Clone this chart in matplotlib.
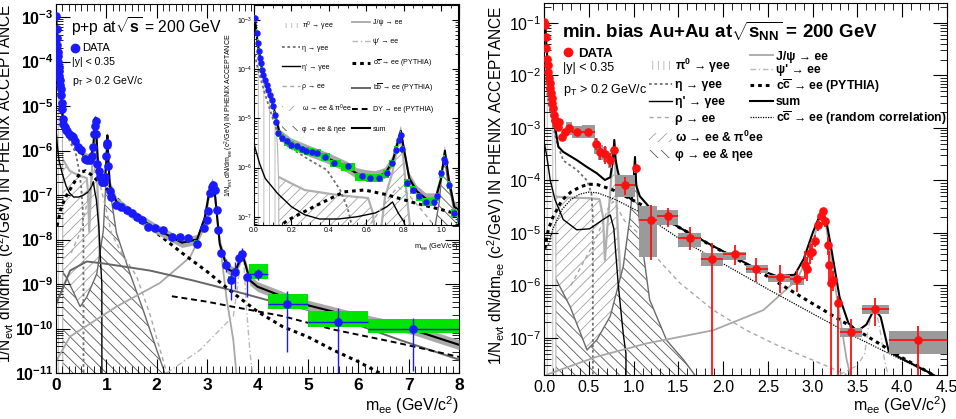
import numpy as np
import matplotlib
matplotlib.use("Agg")
import matplotlib.pyplot as plt
from matplotlib.lines import Line2D
from matplotlib.patches import Patch
from matplotlib.ticker import LogLocator, MultipleLocator, NullFormatter

plt.rcParams['font.family'] = ['Liberation Sans', 'DejaVu Sans']
plt.rcParams['font.weight'] = 'bold'
plt.rcParams['mathtext.fontset'] = 'custom'
plt.rcParams['mathtext.rm'] = 'Liberation Sans'
plt.rcParams['mathtext.it'] = 'Liberation Sans:italic'
plt.rcParams['mathtext.bf'] = 'Liberation Sans:bold'
plt.rcParams['mathtext.default'] = 'regular'
plt.rcParams['hatch.linewidth'] = 0.6

# ---------------- p+p data ----------------
pp_m = [0.005, 0.014, 0.02, 0.027, 0.032, 0.037, 0.041, 0.05, 0.059, 0.068,
        0.077, 0.086, 0.095, 0.103, 0.112, 0.116, 0.13, 0.148, 0.175, 0.20,
        0.228, 0.255, 0.28, 0.31, 0.335, 0.38, 0.43, 0.50, 0.575, 0.62,
        0.67, 0.71, 0.735, 0.76, 0.775, 0.785, 0.79, 0.815, 0.85, 0.88,
        0.92, 0.96, 0.98, 1.0, 1.015, 1.022, 1.04, 1.066, 1.10, 1.2,
        1.3, 1.4, 1.5, 1.6, 1.7, 1.83, 1.96, 2.13, 2.3, 2.46,
        2.63, 2.79, 2.94, 2.99, 3.02, 3.06, 3.09, 3.12, 3.15, 3.19,
        3.21, 3.27]
pp_v = [1.08e-3, 5.4e-4, 3.4e-4, 2.3e-4, 1.66e-4, 1.3e-4, 9.5e-5, 7.6e-5, 6e-5, 4.8e-5,
        3.8e-5, 3e-5, 2.35e-5, 1.74e-5, 1.17e-5, 8.5e-6, 5e-6, 4e-6, 3.4e-6, 2.9e-6,
        2.7e-6, 2.35e-6, 2.2e-6, 2.1e-6, 2.0e-6, 1.66e-6, 1.23e-6, 1.05e-6, 6.6e-7, 6.2e-7,
        6.2e-7, 7.6e-7, 1.23e-6, 2.3e-6, 3.6e-6, 4.6e-6, 2.35e-6, 4.9e-7, 3.5e-7, 2.6e-7,
        2e-7, 2e-7, 2.6e-7, 7.6e-7, 1.5e-6, 1.3e-6, 4.5e-7, 1.2e-7, 9e-8, 6e-8,
        5.5e-8, 4.6e-8, 3.9e-8, 3.2e-8, 2.7e-8, 1.95e-8, 1.8e-8, 1.6e-8, 1.15e-8, 1.15e-8,
        1.07e-8, 8.1e-9, 1.77e-8, 2.7e-8, 4.3e-8, 1.1e-7, 1.55e-7, 1.67e-7, 1.3e-7, 4.6e-8,
        1.6e-8, 4.9e-9]

pp_mid_m = [3.37, 3.47, 3.55, 3.64, 3.70, 3.80]
pp_mid_v = [2.7e-9, 1.25e-9, 1.9e-9, 3.9e-9, 4.7e-9, 1.4e-9]
pp_mid_elo = [1.9e-9, 4.4e-10, 7.9e-10, 2.8e-9, 3.5e-9, 5.1e-10]
pp_mid_ehi = [3.7e-9, 1.9e-9, 3.2e-9, 5.5e-9, 6.5e-9, 1.9e-9]

pp_bin_m = [4.0, 4.58, 5.59, 7.09]
pp_bin_lo = [3.83, 4.2, 5.0, 6.2]
pp_bin_hi = [4.2, 5.0, 6.2, 8.0]
pp_bin_v = [1.67e-9, 3.5e-10, 1.4e-10, 9.6e-11]
pp_bin_elo = [1.23e-9, 3e-11, 1e-11, 1.1e-11]
pp_bin_ehi = [2.2e-9, 6.9e-10, 2.95e-10, 1.7e-10]
pp_bin_slo = [1.29e-9, 2.75e-10, 1.1e-10, 7.9e-11]
pp_bin_shi = [2.8e-9, 5.9e-10, 2.45e-10, 1.6e-10]
pp_sys = 0.18

# p+p cocktail
pp_pi0_m = [0.0, 0.005, 0.02, 0.04, 0.06, 0.08, 0.10, 0.115, 0.125, 0.132, 0.135]
pp_pi0_v = [1.1e-3, 1.05e-3, 3.3e-4, 1.1e-4, 5.2e-5, 3.3e-5, 1.9e-5, 9e-6, 3e-6, 5e-7, 1e-13]
pp_eta_m = [0.005, 0.02, 0.06, 0.10, 0.13, 0.18, 0.30, 0.39, 0.46, 0.50, 0.53, 0.545, 0.547]
pp_eta_v = [2e-4, 1e-4, 3e-5, 1e-5, 4.5e-6, 2.7e-6, 1.4e-6, 8.9e-7, 3.5e-7, 1.5e-7, 5e-8, 1e-8, 1e-13]
pp_etap_m = [0.0, 0.03, 0.06, 0.125, 0.2, 0.27, 0.35, 0.45, 0.55, 0.65, 0.71, 0.74, 0.77, 0.80, 0.85, 0.88, 0.91, 0.912]
pp_etap_v = [3e-6, 1.2e-6, 6e-7, 3e-7, 1.6e-7, 1.1e-7, 9e-8, 9e-8, 1e-7, 1.2e-7, 1.6e-7, 2e-7, 1.2e-7, 8e-8, 2e-8, 4e-9, 1e-9, 1e-13]
pp_rho_m = [0.3, 0.45, 0.55, 0.65, 0.72, 0.77, 0.82, 0.9, 1.0, 1.1, 1.3, 1.6, 1.87, 2.0, 2.2]
pp_rho_v = [5e-9, 1.2e-8, 3e-8, 1e-7, 2.5e-7, 4e-7, 3e-7, 1.3e-7, 4.5e-8, 1.4e-8, 5e-9, 1.5e-9, 2e-10, 6e-11, 1e-11]
pp_omega_m = [0.0, 0.05, 0.125, 0.27, 0.45, 0.61, 0.635, 0.66, 0.70, 0.74, 0.765, 0.78, 0.795, 0.82, 0.87, 0.95, 1.05, 1.2]
pp_omega_v = [3.1e-6, 1.1e-6, 6.6e-7, 3.5e-7, 2.75e-7, 2.4e-7, 1.2e-7, 1.5e-8, 2.5e-7, 8e-7, 2.5e-6, 4.5e-6, 2e-6, 2e-7, 3e-9, 3e-10, 8e-11, 2e-11]
pp_phi_m = [0.0, 0.013, 0.21, 0.48, 0.61, 0.81, 0.94, 0.99, 1.006, 1.019, 1.03, 1.07, 1.2, 1.47, 1.73, 2.0, 2.16]
pp_phi_v = [3e-9, 2.9e-9, 1.4e-9, 3.1e-10, 5.1e-10, 1.7e-9, 1.6e-8, 2e-7, 1e-6, 1.9e-6, 7e-7, 1.3e-7, 1.4e-8, 1.7e-9, 2.6e-10, 3.3e-11, 1e-11]
pp_jpsi_m = [0.02, 0.28, 1.2, 2.06, 2.66, 2.92, 3.0, 3.05, 3.1, 3.15, 3.2, 3.3, 3.39, 3.52, 3.58]
pp_jpsi_v = [2e-11, 6.6e-11, 3.1e-10, 1.05e-9, 4e-9, 1.6e-8, 5e-8, 1.2e-7, 1.8e-7, 1.2e-7, 3e-8, 3e-9, 4.4e-10, 5.5e-11, 1e-11]
pp_psip_m = [2.2, 2.86, 3.52, 3.6, 3.65, 3.69, 3.73, 3.78, 3.85, 3.9]
pp_psip_v = [1e-11, 3.3e-11, 1.9e-10, 8e-10, 3e-9, 4.5e-9, 3e-9, 3e-10, 3e-11, 1e-11]
pp_cc_m = [0.02, 0.1, 0.18, 0.32, 0.48, 0.59, 0.71, 0.86, 1.0, 1.1, 1.5, 2.0, 2.5, 3.0, 3.5, 4.0, 4.5, 5.0, 5.5, 6.0, 6.5]
pp_cc_v = [2e-8, 5e-8, 8.5e-8, 1.6e-7, 3.2e-7, 3.5e-7, 2.8e-7, 1.9e-7, 1.4e-7, 1.1e-7, 4e-8, 1.4e-8, 5e-9, 1.9e-9, 6.5e-10, 2.4e-10, 1.1e-10, 6.5e-11, 3.3e-11, 1.8e-11, 9e-12]
pp_bb_m = [0.01, 0.28, 0.61, 0.94, 1.87, 2.72, 3.45, 4.18, 5.5, 6.83, 8.0]
pp_bb_v = [3.7e-10, 2e-9, 3.2e-9, 2.9e-9, 2e-9, 1.2e-9, 7.4e-10, 4.4e-10, 1.9e-10, 5.5e-11, 2e-11]
pp_dy_m = [2.3, 3.0, 3.5, 4.5, 5.5, 6.8, 8.0]
pp_dy_v = [5.3e-10, 4e-10, 3.1e-10, 1.9e-10, 9.5e-11, 4.7e-11, 2.3e-11]
pp_sum_m = [0.005, 0.02, 0.04, 0.06, 0.08, 0.1, 0.12, 0.14, 0.2, 0.3, 0.4, 0.5, 0.55, 0.6, 0.65,
            0.7, 0.74, 0.77, 0.785, 0.80, 0.83, 0.87, 0.92, 0.97, 1.0, 1.02, 1.04, 1.07, 1.2,
            1.5, 2.0, 2.5, 2.8, 2.95, 3.05, 3.1, 3.15, 3.25, 3.4, 3.55, 3.65, 3.69, 3.75, 3.85,
            4.0, 4.84, 6.16, 7.09, 8.0]
pp_sum_v = [1.05e-3, 3.3e-4, 1.1e-4, 5.5e-5, 3.5e-5, 2e-5, 9e-6, 4.5e-6, 3.0e-6, 2.1e-6, 1.5e-6, 1.0e-6, 7.5e-7, 6.8e-7, 6.5e-7,
            7.5e-7, 1.3e-6, 3.5e-6, 5.5e-6, 2.5e-6, 6e-7, 3.3e-7, 2.3e-7, 2.3e-7, 6e-7, 2.2e-6, 6e-7, 1.6e-7, 7e-8,
            3.8e-8, 1.7e-8, 8.5e-9, 1.0e-8, 3e-8, 1.3e-7, 1.9e-7, 1.2e-7, 8e-9, 2.2e-9, 1.8e-9, 3.5e-9, 5e-9, 3e-9, 1.2e-9,
            8.7e-10, 3.7e-10, 1.55e-10, 9.3e-11, 4.3e-11]

# ---------------- Au+Au data ----------------
au_m = [0.003, 0.015, 0.019, 0.022, 0.03, 0.041, 0.048, 0.056, 0.063, 0.07, 0.078,
        0.086, 0.093, 0.10, 0.11, 0.123, 0.134, 0.149, 0.16, 0.167, 0.197, 0.234]
au_v = [0.104, 0.091, 0.055, 0.033, 0.021, 0.016, 0.0118, 8.9e-3, 7.1e-3, 5.7e-3, 4.6e-3,
        3.7e-3, 2.95e-3, 2.4e-3, 1.8e-3, 1.4e-3, 1.23e-3, 1.14e-3, 1.05e-3, 1.3e-3, 6.8e-4, 8.5e-4]

au_bin_m = [0.283, 0.372, 0.495, 0.58, 0.63, 0.68, 0.737, 0.78, 0.904, 1.027, 1.19,
            1.38, 1.63, 1.88, 2.13, 2.37, 2.63, 2.83, 3.43, 3.70, 4.18]
au_bin_lo = [0.26, 0.31, 0.42, 0.58, 0.63, 0.68, 0.737, 0.78, 0.79, 1.027, 1.06,
             1.26, 1.5, 1.75, 2.0, 2.25, 2.5, 2.75, 3.3, 3.55, 3.85]
au_bin_hi = [0.31, 0.44, 0.57, 0.58, 0.63, 0.68, 0.737, 0.78, 1.02, 1.027, 1.26,
             1.5, 1.75, 2.0, 2.25, 2.5, 2.75, 2.9, 3.55, 3.85, 4.5]
au_bin_v = [1e-3, 8.3e-4, 8.5e-4, 5e-4, 3.5e-4, 3.2e-4, 2.45e-4, 3.8e-4, 8.1e-5, 1.7e-4, 1.78e-5,
            2.1e-5, 7.9e-6, 3.2e-6, 3.9e-6, 2.1e-6, 1.45e-6, 1.3e-6, 1.3e-7, 3.6e-7, 9.2e-8]
au_bin_elo = [9e-4, 7.6e-4, 7.8e-4, 3.8e-4, 2.45e-4, 2.1e-4, 1.8e-4, 3.3e-4, 5.2e-5, 1.45e-4, 3.1e-6,
              1.3e-5, 4.8e-6, 1e-8, 2.45e-6, 1.17e-6, 7.1e-7, 7.6e-7, 1e-8, 1.7e-7, 1e-8]
au_bin_ehi = [1.1e-3, 9.1e-4, 9.3e-4, 6.3e-4, 5.1e-4, 4.5e-4, 3.3e-4, 4.4e-4, 1.17e-4, 2e-4, 3.4e-5,
              2.95e-5, 1.3e-5, 6.3e-6, 5.9e-6, 3.3e-6, 2.45e-6, 2e-6, 2.3e-7, 5.8e-7, 1.7e-7]
au_box_xlo = [0.25, 0.31, 0.42, 0.555, 0.605, 0.655, 0.71, 0.765, 0.79, 1.01, 1.06,
              1.26, 1.5, 1.75, 2.0, 2.25, 2.5, 2.75, 3.3, 3.55, 3.85]
au_box_xhi = [0.31, 0.44, 0.57, 0.605, 0.655, 0.705, 0.76, 0.795, 1.02, 1.045, 1.26,
              1.5, 1.75, 2.0, 2.25, 2.5, 2.75, 2.9, 3.55, 3.85, 4.5]
au_box_lo = [7.5e-4, 6.3e-4, 6.5e-4, 3.2e-4, 2.4e-4, 2.2e-4, 1.7e-4, 3.2e-4, 4.9e-5, 1.4e-4, 3.5e-6,
             1.41e-5, 5.5e-6, 2.3e-6, 3.1e-6, 1.74e-6, 1.17e-6, 1.0e-6, 1.05e-7, 2.8e-7, 4.9e-8]
au_box_hi = [1.3e-3, 1.1e-3, 1.15e-3, 6.3e-4, 4.8e-4, 4.4e-4, 3.4e-4, 4.4e-4, 1.26e-4, 2e-4, 3.2e-5,
             2.75e-5, 9.8e-6, 4.1e-6, 4.4e-6, 2.45e-6, 1.6e-6, 1.5e-6, 1.55e-7, 4.2e-7, 1.38e-7]

au_jpsi_m = [2.91, 2.94, 2.97, 2.99, 3.03, 3.06, 3.09, 3.12, 3.14, 3.17, 3.185, 3.21, 3.23, 3.28]
au_jpsi_v = [2.5e-6, 2.1e-6, 4.1e-6, 4.4e-6, 7.1e-6, 1.4e-5, 2.1e-5, 2.6e-5, 1.66e-5, 5.8e-6, 2.5e-6, 1.1e-6, 1.26e-6, 4.6e-7]
au_jpsi_elo = [1.3e-6, 1.2e-6, 2.6e-6, 3e-6, 5.5e-6, 1.1e-5, 1.8e-5, 2.3e-5, 1.3e-5, 3.8e-6, 1.2e-6, 1e-8, 8e-7, 1e-8]
au_jpsi_ehi = [4.5e-6, 3.5e-6, 6.5e-6, 6.2e-6, 9e-6, 1.75e-5, 2.4e-5, 2.9e-5, 2.1e-5, 8.5e-6, 4.5e-6, 2.8e-6, 1.9e-6, 6.2e-7]

# Au+Au cocktail
au_pi0_m = [0.0, 0.005, 0.02, 0.04, 0.06, 0.08, 0.1, 0.115, 0.125, 0.132, 0.135]
au_pi0_v = [0.1, 0.095, 0.05, 0.016, 7.5e-3, 4.2e-3, 2.2e-3, 1.2e-3, 5e-4, 1e-4, 1e-13]
au_eta_m = [0.005, 0.02, 0.05, 0.1, 0.15, 0.215, 0.3, 0.365, 0.48, 0.53, 0.545, 0.547]
au_eta_v = [1.5e-2, 8e-3, 3e-3, 1.1e-3, 5e-4, 2.4e-4, 1.9e-4, 1.6e-4, 1e-4, 5.7e-5, 2e-5, 1e-13]
au_etap_m = [0.005, 0.03, 0.07, 0.123, 0.215, 0.365, 0.51, 0.66, 0.74, 0.78, 0.83, 0.885, 0.915, 0.92]
au_etap_v = [5e-4, 3e-4, 1e-4, 4.3e-5, 1.8e-5, 1.15e-5, 1.2e-5, 1.8e-5, 2.2e-5, 1.2e-5, 1e-6, 1.2e-7, 5e-8, 1e-13]
au_rho_m = [0.3, 0.45, 0.55, 0.65, 0.72, 0.77, 0.82, 0.9, 1.0, 1.07, 1.3, 1.52, 1.89, 2.26, 2.64, 3.0, 3.38]
au_rho_v = [1e-6, 3e-6, 6e-6, 1.5e-5, 3e-5, 4e-5, 3e-5, 1.7e-5, 1.2e-5, 9.1e-6, 2.8e-6, 1.1e-6, 3.4e-7, 1.4e-7, 6.8e-8, 3.8e-8, 2e-8]
au_omega_m = [0.0, 0.02, 0.05, 0.14, 0.3, 0.51, 0.62, 0.66, 0.68, 0.71, 0.74, 0.765, 0.78, 0.795, 0.82, 0.86, 0.92, 1.0, 1.1]
au_omega_v = [2.5e-4, 1.2e-4, 7e-5, 4.9e-5, 4.7e-5, 4.6e-5, 4.4e-5, 2e-5, 3e-6, 1.5e-5, 6e-5, 2.5e-4, 4.5e-4, 2e-4, 1.5e-5, 1e-6, 1e-7, 3e-8, 1e-8]
au_phi_m = [0.0, 0.01, 0.14, 0.29, 0.48, 0.59, 0.74, 0.885, 0.96, 1.0, 1.016, 1.03, 1.07, 1.18, 1.37, 1.56, 1.7]
au_phi_v = [3.5e-6, 3.1e-6, 1.26e-6, 4e-7, 5.9e-8, 9.2e-8, 2.6e-7, 2.3e-6, 2e-5, 1.2e-4, 2.4e-4, 1e-4, 1.3e-5, 5.3e-7, 9e-8, 3.8e-8, 1.8e-8]
au_jpsic_m = [0.03, 0.59, 1.15, 1.89, 2.45, 2.82, 2.95, 3.03, 3.08, 3.11, 3.14, 3.18, 3.25, 3.32, 3.38, 3.42]
au_jpsic_v = [2e-8, 4.4e-8, 7.9e-8, 1.4e-7, 3.4e-7, 1.26e-6, 3.5e-6, 1e-5, 1.9e-5, 2.3e-5, 1.8e-5, 6e-6, 1e-6, 1.7e-7, 3.8e-8, 2e-8]
au_psip_m = [3.3, 3.5, 3.58, 3.62, 3.66, 3.69, 3.72, 3.76, 3.8, 3.84]
au_psip_v = [2e-8, 3e-8, 5e-8, 1.5e-7, 3e-7, 3.4e-7, 2.8e-7, 1.2e-7, 4e-8, 2e-8]
au_cc_m = [0.01, 0.05, 0.1, 0.2, 0.3, 0.4, 0.5, 0.6, 0.77, 1.03, 1.2, 1.5, 1.89, 2.37, 3.0, 3.5, 4.0, 4.3, 4.5]
au_cc_v = [5e-6, 1.2e-5, 2e-5, 4.2e-5, 6e-5, 7.5e-5, 8.5e-5, 8.3e-5, 6.6e-5, 3.9e-5, 2.7e-5, 1.3e-5, 5.5e-6, 2e-6, 4.5e-7, 1.4e-7, 4.2e-8, 2.2e-8, 1.3e-8]
au_ccr_m = [0.05, 0.1, 0.2, 0.3, 0.4, 0.5, 0.6, 0.8, 1.07, 1.5, 2.0, 2.5, 3.0, 3.5, 4.0, 4.5]
au_ccr_v = [6e-6, 1.2e-5, 2.8e-5, 4.3e-5, 5.5e-5, 6e-5, 5.8e-5, 4.3e-5, 2.5e-5, 8e-6, 2.6e-6, 8.5e-7, 2.9e-7, 1.0e-7, 3.8e-8, 1.5e-8]
au_sum_m = [0.003, 0.015, 0.03, 0.05, 0.07, 0.09, 0.11, 0.13, 0.16, 0.215, 0.365, 0.48, 0.59, 0.68, 0.74, 0.77,
            0.785, 0.80, 0.82, 0.885, 0.98, 1.0, 1.016, 1.03, 1.07, 1.2, 1.5, 1.89, 2.37, 2.6, 2.8, 2.9,
            3.0, 3.06, 3.1, 3.15, 3.2, 3.3, 3.4, 3.5, 3.6, 3.69, 3.76, 3.85, 4.0, 4.3, 4.5]
au_sum_v = [0.1, 0.09, 0.03, 0.012, 5.7e-3, 3.4e-3, 1.8e-3, 9e-4, 4.4e-4, 3.5e-4, 2.45e-4, 1.8e-4, 1.37e-4, 1.02e-4, 1.15e-4, 2.5e-4,
            5.9e-4, 2.5e-4, 1.6e-4, 5.7e-5, 4.3e-5, 8e-5, 2.8e-4, 8e-5, 5e-5, 2.8e-5, 1.3e-5, 5.6e-6, 2.1e-6, 1.5e-6, 1.6e-6, 3.2e-6,
            1e-5, 1.8e-5, 2.4e-5, 1.8e-5, 6e-6, 6e-7, 1.9e-7, 1.35e-7, 1.8e-7, 3.6e-7, 2.5e-7, 5.5e-8, 4e-8, 2.2e-8, 1.4e-8]

FLOOR = 1e-13

# styles
ST_ETA = dict(color='#6e6e6e', ls=(0, (1.5, 1.5)), lw=1.3)
ST_ETAP = dict(color='black', ls='-', lw=1.0)
ST_RHO = dict(color='#a8a8a8', ls=(0, (3, 2.5)), lw=1.0)
ST_JPSI = dict(color='#a8a8a8', ls='-', lw=1.3)
ST_PSIP = dict(color='#b8b8b8', ls=(0, (4, 2, 1, 2)), lw=1.0)
ST_CC = dict(color='black', ls=(0, (1.2, 1.3)), lw=2.2)
ST_BB = dict(color='#676767', ls='-', lw=1.4)
ST_DY = dict(color='black', ls=(0, (3, 2)), lw=1.4)
ST_SUM = dict(color='black', ls='-', lw=1.5)
ST_CCR = dict(color='black', ls=(0, (1, 1)), lw=0.9)

YLABEL = r"1/N$_{evt}$ dN/dm$_{ee}$ (c$^2$/GeV) IN PHENIX ACCEPTANCE"
XLABEL = r"m$_{ee}$ (GeV/c$^2$)"


def fill_region(ax, m, v, hatch, hcol, ecol, lw, z):
    ax.fill_between(m, v, FLOOR, facecolor='white', edgecolor=hcol, hatch=hatch,
                    linewidth=0, zorder=z)
    ax.plot(m, v, color=ecol, lw=lw, zorder=z + 0.05)


def style_log(ax, labsize, majlen=8, minlen=4, pad=3.5):
    ax.set_yscale('log')
    ax.yaxis.set_major_locator(LogLocator(base=10, numticks=30))
    ax.yaxis.set_minor_locator(LogLocator(base=10, subs=np.arange(2, 10), numticks=30))
    ax.yaxis.set_minor_formatter(NullFormatter())
    ax.tick_params(which='both', direction='in', top=True, right=True, labelsize=labsize, pad=pad)
    ax.tick_params(which='major', length=majlen, width=0.8)
    ax.tick_params(which='minor', length=minlen, width=0.6)


def draw_pp(ax, ms):
    fill_region(ax, pp_omega_m, pp_omega_v, '///', '#a0a0a0', '#b0b0b0', 1.6, 1.0)
    fill_region(ax, pp_phi_m, pp_phi_v, '\\\\\\', '#555555', '#6a6a6a', 1.0, 1.2)
    fill_region(ax, pp_pi0_m, pp_pi0_v, '|||', '#b5b5b5', '#b5b5b5', 0.8, 1.4)
    ax.plot(pp_eta_m, pp_eta_v, zorder=2, **ST_ETA)
    ax.plot(pp_etap_m, pp_etap_v, zorder=2, **ST_ETAP)
    ax.plot(pp_rho_m, pp_rho_v, zorder=2, **ST_RHO)
    ax.plot(pp_jpsi_m, pp_jpsi_v, zorder=2, **ST_JPSI)
    ax.plot(pp_psip_m, pp_psip_v, zorder=2, **ST_PSIP)
    ax.plot(pp_bb_m, pp_bb_v, zorder=2, **ST_BB)
    ax.plot(pp_dy_m, pp_dy_v, zorder=2, **ST_DY)
    ax.plot(pp_cc_m, pp_cc_v, zorder=2.1, **ST_CC)
    sm = np.array(pp_sum_m)
    sv = np.array(pp_sum_v)
    ax.fill_between(sm, sv * 0.78, sv * 1.3, color='#a9a9a9', lw=0, zorder=3)
    ax.plot(sm, sv, zorder=3.5, **ST_SUM)

    # green systematic boxes
    m = np.array(pp_m + pp_mid_m)
    v = np.array(pp_v + pp_mid_v)
    edges = np.concatenate([[m[0] - 0.005], 0.5 * (m[1:] + m[:-1]), [m[-1] + 0.05]])
    lo = np.maximum(edges[:-1], m - 0.05)
    hi = np.minimum(edges[1:], m + 0.05)
    ax.bar(lo, v * 2 * pp_sys, bottom=v * (1 - pp_sys), width=hi - lo, align='edge',
           color='#00e400', lw=0, zorder=4)
    bl = np.array(pp_bin_lo)
    bh = np.array(pp_bin_hi)
    ax.bar(bl, np.array(pp_bin_shi) - np.array(pp_bin_slo), bottom=pp_bin_slo,
           width=bh - bl, align='edge', color='#00e400', lw=0, zorder=4)

    ax.plot(pp_m, pp_v, 'o', color='#1a1aff', ms=ms, mec='#1a1aff', zorder=6)
    mv = np.array(pp_mid_v)
    ax.errorbar(pp_mid_m, mv, yerr=[mv - np.array(pp_mid_elo), np.array(pp_mid_ehi) - mv],
                fmt='o', color='#1a1aff', ms=ms, lw=1.0, capsize=0, zorder=6)
    bm = np.array(pp_bin_m)
    bv = np.array(pp_bin_v)
    ax.errorbar(bm, bv, xerr=[bm - bl, bh - bm],
                yerr=[bv - np.array(pp_bin_elo), np.array(pp_bin_ehi) - bv],
                fmt='o', color='#1a1aff', ms=ms, lw=1.0, capsize=0, zorder=6)


W, H = 956, 419
fig = plt.figure(figsize=(W / 100, H / 100), dpi=100)

# ---------------- left: p+p ----------------
axL = fig.add_axes([56 / W, 1 - 373 / H, (459 - 56) / W, (373 - 4) / H])
style_log(axL, 11.5, 10, 5, pad=2)
draw_pp(axL, 5.2)
axL.set_xlim(0, 8)
axL.set_ylim(1e-11, 1.96e-3)
axL.xaxis.set_major_locator(MultipleLocator(1))
axL.xaxis.set_minor_locator(MultipleLocator(0.125))
axL.tick_params(axis='x', labelsize=12.5, pad=3.5)
axL.set_ylabel(YLABEL, fontsize=11.2, fontweight='normal')
axL.yaxis.set_label_coords(-0.1, 0.515)
axL.text(1.0, -0.087, XLABEL, transform=axL.transAxes, ha='right', va='center',
         fontsize=11.5, fontweight='normal')
axL.text(0.037, 0.94, r"p+p at$\mathrm{\sqrt{s}}$ = 200 GeV", transform=axL.transAxes,
         ha='left', va='center', fontsize=11.3, fontweight='normal')
axL.text(0.04, 0.843, "|y| < 0.35", transform=axL.transAxes, ha='left', va='center',
         fontsize=7.6, fontweight='normal')
axL.text(0.04, 0.79, r"p$_T$ > 0.2 GeV/c", transform=axL.transAxes, ha='left', va='center',
         fontsize=7.6, fontweight='normal')
axL.legend(handles=[Line2D([], [], marker='o', color='#1a1aff', ls='none', ms=6)], labels=['DATA'],
           loc='upper left', bbox_to_anchor=(0.03, 0.893), frameon=False, handletextpad=0.1,
           handlelength=1.2, prop=dict(size=8, weight='normal'), borderaxespad=0, borderpad=0)

# ---------------- inset ----------------
axI = fig.add_axes([254 / W, 1 - 225 / H, (458 - 254) / W, (225 - 5) / H])
axI.set_zorder(5)
axI.set_facecolor('white')
style_log(axI, 5, 4, 2, pad=1.5)
draw_pp(axI, 3.6)
axI.set_xlim(0, 1.09)
axI.set_ylim(6.8e-8, 2.0e-3)
axI.xaxis.set_major_locator(MultipleLocator(0.2))
axI.xaxis.set_minor_locator(MultipleLocator(0.05))
axI.set_ylabel(YLABEL, fontsize=5.0, fontweight='normal')
axI.yaxis.set_label_coords(-0.09, 0.5)
axI.text(1.0, -0.1, XLABEL, transform=axI.transAxes, ha='right', va='center',
         fontsize=5.3, fontweight='normal')
for lab in axI.get_xticklabels() + axI.get_yticklabels():
    lab.set_fontweight('normal')

inset_c1 = [Patch(facecolor='white', edgecolor='#b5b5b5', hatch='|||', lw=0),
            Line2D([], [], **ST_ETA), Line2D([], [], **ST_ETAP), Line2D([], [], **ST_RHO),
            Patch(facecolor='white', edgecolor='#a0a0a0', hatch='///', lw=0),
            Patch(facecolor='white', edgecolor='#555555', hatch='\\\\\\', lw=0)]
inset_l1 = [r"$\pi^0$ → γee", "η → γee", "η' → γee", "ρ → ee",
            r"ω → ee & $\pi^0$ee", "φ → ee & ηee"]
inset_c2 = [Line2D([], [], **ST_JPSI), Line2D([], [], **ST_PSIP), Line2D([], [], **ST_CC),
            Line2D([], [], **ST_BB), Line2D([], [], **ST_DY), Line2D([], [], **ST_SUM)]
inset_l2 = ["J/ψ → ee", "ψ' → ee", r"c$\overline{c}$ → ee (PYTHIA)", r"b$\overline{b}$ → ee (PYTHIA)",
            "DY → ee (PYTHIA)", "sum"]
legI1 = axI.legend(inset_c1, inset_l1, loc='upper left', bbox_to_anchor=(0.135, 0.935), frameon=False,
                   prop=dict(size=5, weight='normal'), labelspacing=1.75, handlelength=2.6,
                   handletextpad=0.4, borderaxespad=0, borderpad=0)
axI.add_artist(legI1)
axI.legend(inset_c2, inset_l2, loc='upper left', bbox_to_anchor=(0.48, 0.935), frameon=False,
           prop=dict(size=5, weight='normal'), labelspacing=1.75, handlelength=2.6,
           handletextpad=0.4, borderaxespad=0, borderpad=0)

# ---------------- right: Au+Au ----------------
axR = fig.add_axes([544 / W, 1 - 375 / H, (947 - 544) / W, (375 - 3) / H])
style_log(axR, 11.5, 10, 5, pad=2)
fill_region(axR, au_omega_m, au_omega_v, '///', '#a0a0a0', '#b0b0b0', 1.6, 1.0)
fill_region(axR, au_phi_m, au_phi_v, '\\\\\\', '#555555', '#6a6a6a', 1.0, 1.2)
fill_region(axR, au_pi0_m, au_pi0_v, '|||', '#b5b5b5', '#b5b5b5', 0.8, 1.4)
axR.plot(au_eta_m, au_eta_v, zorder=2, **ST_ETA)
axR.plot(au_etap_m, au_etap_v, zorder=2, **ST_ETAP)
axR.plot(au_rho_m, au_rho_v, zorder=2, **ST_RHO)
axR.plot(au_jpsic_m, au_jpsic_v, zorder=2, **ST_JPSI)
axR.plot(au_psip_m, au_psip_v, zorder=2, **ST_PSIP)
axR.plot(au_ccr_m, au_ccr_v, zorder=2, **ST_CCR)
axR.plot(au_cc_m, au_cc_v, zorder=2.1, **ST_CC)
axR.plot(au_sum_m, au_sum_v, zorder=3.5, **ST_SUM)

bxl = np.array(au_box_xlo)
bxh = np.array(au_box_xhi)
axR.bar(bxl, np.array(au_box_hi) - np.array(au_box_lo), bottom=au_box_lo, width=bxh - bxl,
        align='edge', color='#9a9a9a', lw=0, zorder=4)
axR.plot(au_m, au_v, 'o', color='#ff1010', ms=5.2, zorder=6)
abm = np.array(au_bin_m)
abv = np.array(au_bin_v)
axR.errorbar(abm, abv, xerr=[abm - np.array(au_bin_lo), np.array(au_bin_hi) - abm],
             yerr=[abv - np.array(au_bin_elo), np.array(au_bin_ehi) - abv],
             fmt='o', color='#ff1010', ms=5.2, lw=1.3, capsize=0, zorder=6)
ajv = np.array(au_jpsi_v)
axR.errorbar(au_jpsi_m, ajv, yerr=[ajv - np.array(au_jpsi_elo), np.array(au_jpsi_ehi) - ajv],
             fmt='o', color='#ff1010', ms=5.2, lw=1.3, capsize=0, zorder=6)

axR.set_xlim(0, 4.5)
axR.set_ylim(1.97e-8, 0.24)
axR.xaxis.set_major_locator(MultipleLocator(0.5))
axR.xaxis.set_minor_locator(MultipleLocator(0.1))
axR.tick_params(axis='x', pad=3.5)
for lab in axR.get_xticklabels() + axR.get_yticklabels():
    lab.set_fontweight('normal')
axR.set_ylabel(YLABEL, fontsize=11.2, fontweight='normal')
axR.yaxis.set_label_coords(-0.092, 0.51)
axR.text(1.0, -0.08, XLABEL, transform=axR.transAxes, ha='right', va='center',
         fontsize=11.5, fontweight='normal')
axR.text(0.045, 0.925, r"min. bias Au+Au at$\sqrt{\mathbf{s}_{\mathbf{NN}}}$ = 200 GeV",
         transform=axR.transAxes, ha='left', va='center', fontsize=13.5)
axR.text(0.047, 0.826, "|y| < 0.35", transform=axR.transAxes, ha='left', va='center',
         fontsize=9, fontweight='normal')
axR.text(0.047, 0.766, r"p$_T$ > 0.2 GeV/c", transform=axR.transAxes, ha='left', va='center',
         fontsize=9, fontweight='normal')

legD = axR.legend(handles=[Line2D([], [], marker='o', color='#ff1010', ls='none', ms=6)], labels=['DATA'],
                  loc='upper left', bbox_to_anchor=(0.04, 0.88), frameon=False, handletextpad=0.2,
                  handlelength=1.2, prop=dict(size=9.5, weight='bold'), borderaxespad=0, borderpad=0)
axR.add_artist(legD)
au_c1 = inset_c1
au_l1 = [r"$\pi^0$ → γee", "η → γee", "η' → γee", "ρ → ee",
         r"ω → ee & $\pi^0$ee", "φ → ee & ηee"]
au_c2 = [Line2D([], [], **ST_JPSI), Line2D([], [], **ST_PSIP), Line2D([], [], **ST_CC),
         Line2D([], [], **ST_SUM), Line2D([], [], **ST_CCR)]
au_l2 = ["J/ψ → ee", "ψ' → ee", r"c$\overline{c}$ → ee (PYTHIA)", "sum",
         r"c$\overline{c}$ → ee (random correlation)"]
legR1 = axR.legend(au_c1, au_l1, loc='upper left', bbox_to_anchor=(0.26, 0.856), frameon=False,
                   prop=dict(size=8.8, weight='bold'), labelspacing=0.38, handlelength=1.9,
                   handletextpad=0.25, borderaxespad=0, borderpad=0)
axR.add_artist(legR1)
axR.legend(au_c2, au_l2, loc='upper left', bbox_to_anchor=(0.51, 0.872), frameon=False,
           prop=dict(size=8.8, weight='bold'), labelspacing=0.12, handlelength=1.9,
           handletextpad=0.25, borderaxespad=0, borderpad=0)

fig.savefig("out.png", dpi=100)
